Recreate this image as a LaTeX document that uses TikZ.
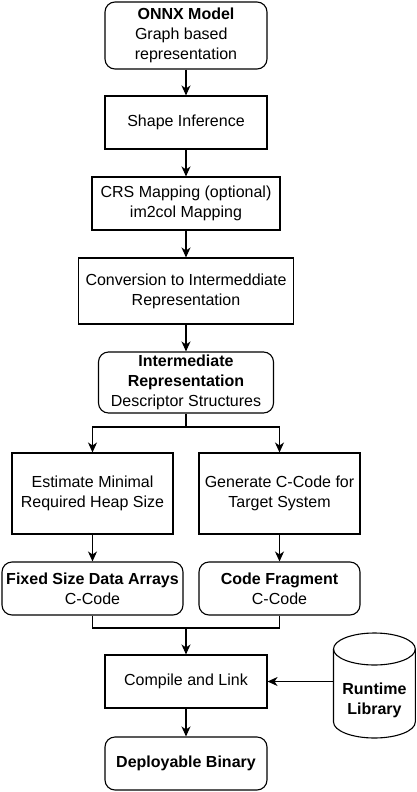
\documentclass[tikz,border=0pt]{standalone}
\usepackage{fontspec}
\setmainfont{Liberation Sans}
\usetikzlibrary{arrows.meta}
\tikzset{
	box/.style={draw, line width=1.1pt, align=center, inner sep=0pt, font=\fontsize{16}{20}\selectfont},
	roundbox/.style={box, rounded corners=10pt},
	flow/.style={line width=1.1pt, -{Stealth[length=10pt,width=9pt,inset=3pt]}},
	wire/.style={line width=1.1pt},
}

\begin{document}
\begin{tikzpicture}[x=1pt, y=-1pt]
		%%%%% START %%%%%
		\useasboundingbox (0, 0) rectangle (416, 792);
		
		\node[roundbox, minimum width=162pt, minimum height=67pt] (onnx) at (186, 35.5) {{\bfseries ONNX Model}\\\makebox[102pt][l]{Graph based}\\representation};
		\node[box, minimum width=162pt, minimum height=53pt] (shape) at (186, 122.5) {Shape Inference};
		\node[box, minimum width=188pt, minimum height=53pt] (crs) at (186, 203.5) {CRS Mapping (optional)\\im2col Mapping};
		\node[box, minimum width=215pt, minimum height=66pt] (conv) at (186, 291) {Conversion to Intermeddiate\\Representation};
		\node[roundbox, minimum width=175pt, minimum height=61pt] (ir) at (186, 382.5) {{\bfseries Intermediate}\\{\bfseries Representation}\\Descriptor Structures};
		
		\node[box, minimum width=161pt, minimum height=81pt] (est) at (92.5, 493.5) {Estimate Minimal\\Required Heap Size};
		\node[box, minimum width=161pt, minimum height=81pt] (gen) at (279.5, 493.5) {Generate C-Code for\\Target System};
		\node[roundbox, minimum width=181pt, minimum height=53pt] (fixed) at (92.5, 588.5) {{\bfseries Fixed Size Data Arrays}\\C-Code};
		\node[roundbox, minimum width=161pt, minimum height=53pt] (frag) at (279.5, 588.5) {{\bfseries Code Fragment}\\C-Code};
		
		\node[box, minimum width=162pt, minimum height=53pt] (comp) at (186, 681.5) {Compile and Link};
		\node[roundbox, minimum width=162pt, minimum height=53pt] (deploy) at (186, 763.5) {\bfseries Deployable Binary};
		
		% runtime library cylinder
		\draw[wire] (374.4, 649) ellipse[x radius=40.9, y radius=16];
		\draw[wire] (333.5, 649) -- (333.5, 722) arc[start angle=180, end angle=0, x radius=40.9, y radius=16] -- (415.3, 649);
		\node[font=\fontsize{16}{20}\selectfont\bfseries, align=center] (lib) at (374.4, 700) {Runtime\\Library};
		\coordinate (libport) at (333.5, 681.5);
		
		% connectors
		\draw[flow] (onnx) -- (shape);
		\draw[flow] (shape) -- (crs);
		\draw[flow] (crs) -- (conv);
		\draw[flow] (conv) -- (ir);
		
		\coordinate (split) at (186, 427);
		\draw[wire] (ir.south) -- (split);
		\draw[flow] (split) -| (est.north);
		\draw[flow] (split) -| (gen.north);
		
		\draw[flow] (est) -- (fixed);
		\draw[flow] (gen) -- (frag);
		
		\coordinate (merge) at (186, 628);
		\draw[wire] (fixed.south) |- (merge) -| (frag.south);
		\draw[flow] (merge) -- (comp.north);
		
		\draw[flow] (libport) -- (comp.east);
		\draw[flow] (comp) -- (deploy);
		%%%%% END %%%%%
	\end{tikzpicture}
\end{document}
